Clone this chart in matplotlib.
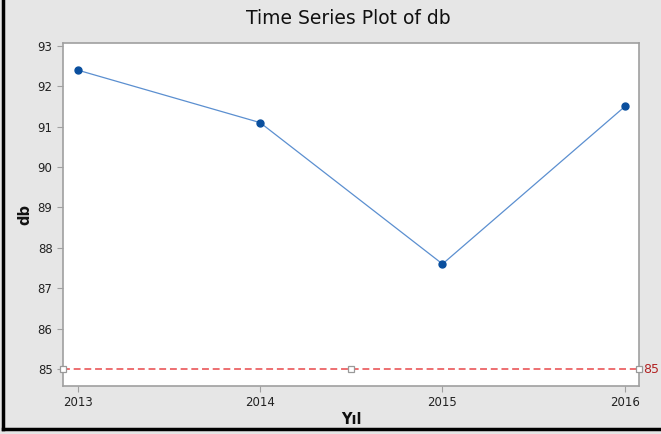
import numpy as np
import matplotlib
matplotlib.use('Agg')
import matplotlib.pyplot as plt
from matplotlib.lines import Line2D

# time series values
years = [2013, 2014, 2015, 2016]
db = [92.4, 91.1, 87.6, 91.5]
ref_value = 85
yticks = [85, 86, 87, 88, 89, 90, 91, 92, 93]

bg = '#e6e6e6'
spine = '#a0a0a0'

fig = plt.figure(figsize=(6.61, 4.34), dpi=100, facecolor=bg)
ax = fig.add_axes([63/661, 48/434, 576/661, 343/434])
ax.set_facecolor('white')

ax.plot(years, db, color='#5b8fd0', lw=0.9, zorder=3)
ax.plot(years, db, ls='none', marker='o', ms=5, color='#0a4f9e', zorder=4)

# reference line with square markers at ends and middle
ax.axhline(ref_value, color='#e8484a', lw=1.1, ls=(0, (4.5, 2.5)), zorder=2)
ax.plot([0, 0.5, 1], [ref_value]*3, transform=ax.get_yaxis_transform(), ls='none',
        marker='s', ms=5, mfc='white', mec='#999999', mew=0.9, clip_on=False, zorder=5)
ax.text(1.007, ref_value, str(ref_value), transform=ax.get_yaxis_transform(),
        color='#b22222', fontsize=9, va='center', ha='left')

ax.set_xlim(2012.92, 2016.077)
ax.set_ylim(84.58, 93.07)
ax.set_xticks(years)
ax.set_yticks(yticks)
ax.tick_params(axis='both', colors=spine, labelcolor='#222222', labelsize=8.5, length=4, width=0.8)
for s in ax.spines.values():
    s.set_color(spine)
    s.set_linewidth(1.2)

ax.set_xlabel('Yıl', fontsize=10.5, fontweight='bold', color='#111111', labelpad=2)
ax.set_ylabel('db', fontsize=10.5, fontweight='bold', color='#111111', labelpad=4)
fig.text(0.527, 0.958, 'Time Series Plot of db', ha='center', va='center',
         fontsize=13.5, color='#111111')

# black frame on left and bottom
fig.add_artist(Line2D([3/661, 3/661], [5/434, 1], transform=fig.transFigure, color='black', lw=2.5))
fig.add_artist(Line2D([3/661, 1], [5/434, 5/434], transform=fig.transFigure, color='black', lw=2.5))

fig.savefig('out.png', dpi=100, facecolor=bg)
